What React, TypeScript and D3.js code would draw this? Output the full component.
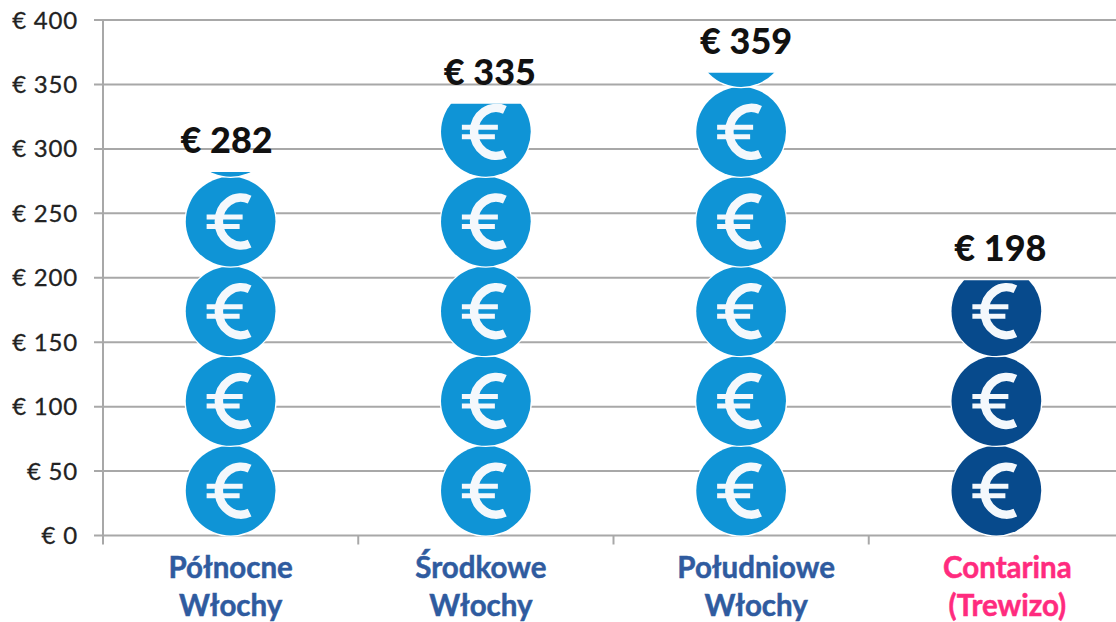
import React from "react";
import * as d3 from "d3";

const categories = [["Północne", "Włochy"], ["Środkowe", "Włochy"], ["Południowe", "Włochy"], ["Contarina", "(Trewizo)"]];
const values = [282, 335, 359, 198];
const valueLabels = ["€ 282", "€ 335", "€ 359", "€ 198"];
const yTicks = [0, 50, 100, 150, 200, 250, 300, 350, 400];
const unitsPerCoin = 69.6;

const barColors = ["#0f94d6", "#0f94d6", "#0f94d6", "#074a8c"];
const labelColors = ["#2f5b9f", "#2f5b9f", "#2f5b9f", "#ff2b7e"];
const categoryShift = [0, -5, 15, 11];
const valueShift = [-4, 4, 5, 4];

const W = 1116, H = 622;
const x = d3.scaleBand<number>().domain([0, 1, 2, 3]).range([103, 1124]);
const y = d3.scaleLinear().domain([0, 400]).range([535.5, 20]);
const GREY = "#a8a8a8";
const EURO_ARC = "M19,-22 A22,24 0 1 0 19,22";
const EURO_BARS = "M-24,-4.5 H12 M-24,5 H9";

export default function App() {
  const coinH = y(0) - y(unitsPerCoin);
  const r = coinH / 2;
  return (
    <svg width={W} height={H} style={{ position: "absolute", left: 0, top: 0, background: "#fff" }}>
      <defs>
        {values.map((v, i) => (
          <clipPath id={`clip${i}`} key={i}>
            <rect x={x(i)!} y={y(v)} width={x.bandwidth()} height={y(0) - y(v) + 2} />
          </clipPath>
        ))}
      </defs>
      {yTicks.map((t) => (
        <g key={t}>
          <line x1={94} x2={1116} y1={y(t)} y2={y(t)} stroke={GREY} strokeWidth={2} />
          <text x={78} y={y(t) + 8.5} textAnchor="end" fontFamily="Lato" fontSize={24} letterSpacing={0.8} stroke="#222" strokeWidth={0.3} fill="#222">€ {t}</text>
        </g>
      ))}
      <line x1={103} x2={103} y1={y(400)} y2={y(0) + 9} stroke={GREY} strokeWidth={2} />
      {[1, 2, 3].map((i) => (
        <line key={i} x1={x(i)!} x2={x(i)!} y1={y(0)} y2={y(0) + 9} stroke={GREY} strokeWidth={2} />
      ))}
      {values.map((v, i) => {
        const cx = x(i)! + x.bandwidth() / 2;
        const coins = d3.range(Math.ceil(v / unitsPerCoin));
        return (
          <g key={i} clipPath={`url(#clip${i})`}>
            {coins.map((c) => {
              const cy = y(c * unitsPerCoin + unitsPerCoin / 2);
              return (
                <g key={c} transform={`translate(${cx},${cy})`}>
                  <circle r={r} fill={barColors[i]} stroke="#fff" strokeWidth={2.5} paintOrder="stroke" />
                  <path d={EURO_ARC} fill="none" stroke="#f4f8fc" strokeWidth={8.5} />
                  <path d={EURO_BARS} fill="none" stroke="#f4f8fc" strokeWidth={5} />
                </g>
              );
            })}
          </g>
        );
      })}
      {values.map((v, i) => (
        <text key={i} x={x(i)! + x.bandwidth() / 2 + valueShift[i]} y={y(v) - 19} textAnchor="middle" fontFamily="Lato" fontWeight={900} fontSize={36} fill="#111">{valueLabels[i]}</text>
      ))}
      {categories.map((lines, i) => (
        <text key={i} textAnchor="middle" fontFamily="Lato" fontWeight={700} fontSize={29.5} stroke={labelColors[i]} strokeWidth={0.5} fill={labelColors[i]}>
          {lines.map((l, j) => (
            <tspan key={j} x={x(i)! + x.bandwidth() / 2 + categoryShift[i]} y={578 + j * 38}>{l}</tspan>
          ))}
        </text>
      ))}
    </svg>
  );
}
